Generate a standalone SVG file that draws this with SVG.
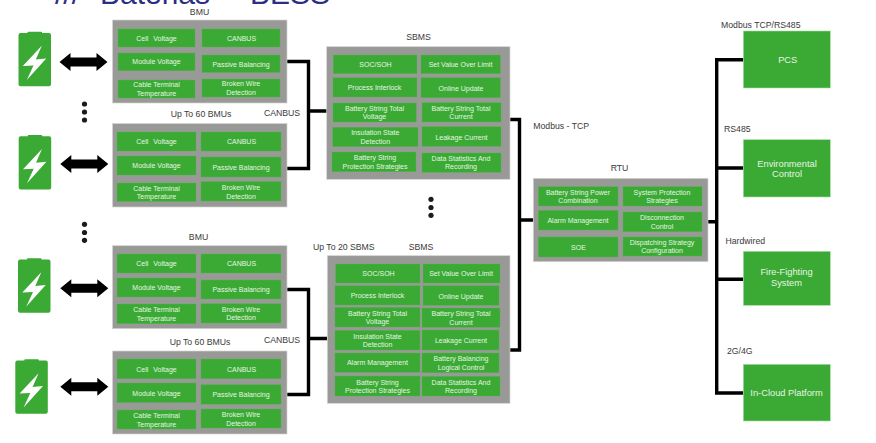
<svg xmlns="http://www.w3.org/2000/svg" width="876" height="443" viewBox="0 0 876 443">
<style>
text{font-family:"Liberation Sans",Arial,sans-serif;text-anchor:middle}
.panel{fill:#999997;stroke:#d4d4d2;stroke-width:.7}
.cell{fill:#3aaa35;stroke:#57b552;stroke-width:.4}
.big{fill:#3aaa35;stroke:#a9dca6;stroke-width:.6}
.c{font-size:7px;fill:#e6f4e2}
.ws{word-spacing:3px}
.b{font-size:9.3px;fill:#e6f4e2}
.l{font-size:8.7px;fill:#3a3a3a}
.s{text-anchor:start}
.w{fill:none;stroke:#000;stroke-width:3.4}
.title{font-size:30px;fill:#2b2e83;text-anchor:start}
.dot{fill:#1c1c1c}
.batt{fill:#3aaa35}
.bolt{fill:#fff}
</style>
<defs>
<g id="battery">
<path class="batt" d="M9 0.5Q9 0 10 0H22.5Q23.5 0 23.5 .5V1.3H30.5Q32.5 1.3 32.5 3.5V52.5Q32.5 54.5 30.5 54.5H2Q0 54.5 0 52.5V3.5Q0 1.3 2 1.3H9Z"/>
<path class="bolt" d="M23.3 14L4.3 34.3L15 33.7L8.3 48.3L27.7 26.7L17.3 27.7Z"/>
</g>
<path id="arrow" d="M0 0L11 -9V-4.5H37V-9L48 0L37 9V4.5H11V9Z" fill="#000"/>
</defs>

<text class="title" y="3.5"><tspan x="55">///</tspan><tspan x="100">Baterias</tspan><tspan x="222">–</tspan><tspan x="250">BESS</tspan></text>

<g id="connectors">
<path class="w" d="M287 61.5H308.5V168.5H287M308.5 111H327"/>
<path class="w" d="M287 289.5H308.5V394.5H287M308.5 338.5H327"/>
<path class="w" d="M510 119.5H519.5V350H510M519.5 220H533.3"/>
<path class="w" d="M708 221.7H716.7M743.3 59.7H716.7V393H743.3M716.7 168H743.3M716.7 279.3H743.3"/>
</g>

<g id="battery-1"><use href="#battery" x="18.5" y="31.8"/></g>
<g id="battery-2"><use href="#battery" x="18.7" y="135"/></g>
<g id="battery-3"><use href="#battery" x="18" y="258.3"/></g>
<g id="battery-4"><use href="#battery" x="15.3" y="359.2"/></g>
<g id="link-1"><use href="#arrow" x="59.5" y="62"/></g>
<g id="link-2"><use href="#arrow" x="60.3" y="164"/></g>
<g id="link-3"><use href="#arrow" x="60.3" y="288.3"/></g>
<g id="link-4"><use href="#arrow" x="60.3" y="386.7"/></g>

<g id="dots-1"><circle class="dot" cx="84.5" cy="104" r="2.6"/><circle class="dot" cx="84.5" cy="112" r="2.6"/><circle class="dot" cx="84.5" cy="120" r="2.6"/></g>
<g id="dots-2"><circle class="dot" cx="84.5" cy="224.3" r="2.6"/><circle class="dot" cx="84.5" cy="232.5" r="2.6"/><circle class="dot" cx="84.5" cy="240.3" r="2.6"/></g>
<g id="dots-3"><circle class="dot" cx="431" cy="199.3" r="2.6"/><circle class="dot" cx="431" cy="207.5" r="2.6"/><circle class="dot" cx="431" cy="215.3" r="2.6"/></g>

<g id="bmu-1">
<text class="l" x="199.5" y="15">BMU</text>
<rect class="panel" x="112.5" y="20" width="174.5" height="83"/>
<rect class="cell" x="118" y="29" width="77" height="18"/><text class="c ws" x="156.5" y="40.5">Cell Voltage</text>
<rect class="cell" x="118" y="53" width="77" height="17.7"/><text class="c" x="156.5" y="64">Module Voltage</text>
<rect class="cell" x="118" y="80" width="77" height="18"/><text class="c" x="156.5" y="87">Cable Terminal</text><text class="c" x="156.5" y="95.5">Temperature</text>
<rect class="cell" x="202" y="29" width="78" height="18"/><text class="c" x="241.5" y="40.5">CANBUS</text>
<rect class="cell" x="202" y="55" width="78" height="17.5"/><text class="c" x="241" y="66.5">Passive Balancing</text>
<rect class="cell" x="202" y="79" width="78" height="18"/><text class="c" x="241" y="86">Broken Wire</text><text class="c" x="241" y="94.5">Detection</text>
</g>

<g id="bmu-2">
<text class="l" x="201" y="117">Up To 60 BMUs</text>
<rect class="panel" x="112.5" y="123.5" width="174.5" height="83.5"/>
<rect class="cell" x="117" y="132" width="79" height="19"/><text class="c ws" x="156.5" y="144">Cell Voltage</text>
<rect class="cell" x="117" y="156" width="79" height="19"/><text class="c" x="156.5" y="168">Module Voltage</text>
<rect class="cell" x="117" y="183" width="79" height="18.5"/><text class="c" x="156.5" y="190.5">Cable Terminal</text><text class="c" x="156.5" y="199">Temperature</text>
<rect class="cell" x="201" y="132" width="80" height="19"/><text class="c" x="241.5" y="144">CANBUS</text>
<rect class="cell" x="201" y="157" width="80" height="20"/><text class="c" x="241" y="170">Passive Balancing</text>
<rect class="cell" x="201" y="181.5" width="80" height="19.5"/><text class="c" x="241" y="190">Broken Wire</text><text class="c" x="241" y="198.5">Detection</text>
</g>
<text id="canbus-1" class="l" x="282" y="116">CANBUS</text>

<g id="bmu-3">
<text class="l" x="198.5" y="240">BMU</text>
<rect class="panel" x="112.5" y="245.7" width="174.5" height="83"/>
<rect class="cell" x="117" y="254" width="79" height="19"/><text class="c ws" x="156.5" y="266">Cell Voltage</text>
<rect class="cell" x="117" y="278" width="79" height="19"/><text class="c" x="156.5" y="290">Module Voltage</text>
<rect class="cell" x="117" y="304" width="79" height="19.7"/><text class="c" x="156.5" y="312">Cable Terminal</text><text class="c" x="156.5" y="320.5">Temperature</text>
<rect class="cell" x="201" y="254" width="80" height="19"/><text class="c" x="241.5" y="266">CANBUS</text>
<rect class="cell" x="201" y="280" width="80" height="19"/><text class="c" x="241" y="291.7">Passive Balancing</text>
<rect class="cell" x="201" y="303.7" width="80" height="19.3"/><text class="c" x="241" y="311.7">Broken Wire</text><text class="c" x="241" y="320">Detection</text>
</g>

<g id="bmu-4">
<text class="l" x="200" y="345">Up To 60 BMUs</text>
<rect class="panel" x="112.5" y="351" width="174.5" height="83"/>
<rect class="cell" x="117" y="359" width="79" height="19.7"/><text class="c ws" x="156.5" y="371.5">Cell Voltage</text>
<rect class="cell" x="117" y="383" width="79" height="19.5"/><text class="c" x="156.5" y="395.5">Module Voltage</text>
<rect class="cell" x="117" y="410" width="79" height="19"/><text class="c" x="156.5" y="418">Cable Terminal</text><text class="c" x="156.5" y="426.5">Temperature</text>
<rect class="cell" x="201" y="359" width="80" height="19.7"/><text class="c" x="241.5" y="371.5">CANBUS</text>
<rect class="cell" x="201" y="384.7" width="80" height="19.5"/><text class="c" x="241" y="397">Passive Balancing</text>
<rect class="cell" x="201" y="409" width="80" height="19"/><text class="c" x="241" y="417.3">Broken Wire</text><text class="c" x="241" y="425.7">Detection</text>
</g>
<text id="canbus-2" class="l" x="282" y="342.5">CANBUS</text>

<g id="sbms-1">
<text class="l" x="418.5" y="40">SBMS</text>
<rect class="panel" x="326.7" y="46.7" width="183.3" height="132.6"/>
<rect class="cell" x="333.3" y="55" width="83.7" height="18.7"/><text class="c" x="375.5" y="67">SOC/SOH</text>
<rect class="cell" x="333" y="77.7" width="84" height="19.3"/><text class="c" x="374.5" y="90">Process Interlock</text>
<rect class="cell" x="333" y="103" width="83.3" height="19"/><text class="c" x="374.5" y="110.7">Battery String Total</text><text class="c" x="374.5" y="119.2">Voltage</text>
<rect class="cell" x="332.7" y="127.3" width="85.3" height="19.4"/><text class="c" x="375.3" y="135.3">Insulation State</text><text class="c" x="375.3" y="143.8">Detection</text>
<rect class="cell" x="332" y="152" width="84" height="19.7"/><text class="c" x="375" y="160.3">Battery String</text><text class="c" x="375" y="168.8">Protection Strategies</text>
<rect class="cell" x="421" y="55" width="79.3" height="18.7"/><text class="c" x="460.5" y="67">Set Value Over Limit</text>
<rect class="cell" x="421" y="77.7" width="79.3" height="20"/><text class="c" x="461" y="90.5">Online Update</text>
<rect class="cell" x="422" y="102.7" width="79" height="19.3"/><text class="c" x="461" y="110.7">Battery String Total</text><text class="c" x="461" y="119.2">Current</text>
<rect class="cell" x="422" y="126.7" width="79" height="19.6"/><text class="c" x="461.5" y="139.5">Leakage Current</text>
<rect class="cell" x="422" y="153" width="79" height="19.3"/><text class="c" x="461" y="160.8">Data Statistics And</text><text class="c" x="461" y="169.3">Recording</text>
</g>

<g id="sbms-2">
<text class="l s" x="313" y="250">Up To 20 SBMS</text>
<text class="l" x="421" y="250">SBMS</text>
<rect class="panel" x="327.3" y="255.7" width="182.7" height="147.6"/>
<rect class="cell" x="335.7" y="264" width="84.3" height="19"/><text class="c" x="378.5" y="276">SOC/SOH</text>
<rect class="cell" x="335" y="285.7" width="85" height="19.3"/><text class="c" x="377.5" y="298">Process Interlock</text>
<rect class="cell" x="335" y="307.3" width="85" height="19.7"/><text class="c" x="377.5" y="315.5">Battery String Total</text><text class="c" x="377.5" y="324">Voltage</text>
<rect class="cell" x="335" y="330.3" width="85" height="19.7"/><text class="c" x="377.5" y="338.5">Insulation State</text><text class="c" x="377.5" y="347">Detection</text>
<rect class="cell" x="335" y="353" width="85" height="19.3"/><text class="c" x="377.5" y="365">Alarm Management</text>
<rect class="cell" x="335" y="376" width="85" height="20"/><text class="c" x="377.5" y="384.5">Battery String</text><text class="c" x="377.5" y="393">Protection Strategies</text>
<rect class="cell" x="423" y="264" width="77" height="19"/><text class="c" x="461" y="276">Set Value Over Limit</text>
<rect class="cell" x="423" y="285.7" width="76" height="19.6"/><text class="c" x="461" y="298.5">Online Update</text>
<rect class="cell" x="422" y="308" width="78" height="19.3"/><text class="c" x="461" y="316">Battery String Total</text><text class="c" x="461" y="324.5">Current</text>
<rect class="cell" x="422" y="330" width="77" height="20"/><text class="c" x="461" y="342.7">Leakage Current</text>
<rect class="cell" x="422" y="353" width="77" height="19.7"/><text class="c" x="461" y="361">Battery Balancing</text><text class="c" x="461" y="369.7">Logical Control</text>
<rect class="cell" x="422" y="376.3" width="78" height="19.7"/><text class="c" x="461" y="384.7">Data Statistics And</text><text class="c" x="461" y="393.2">Recording</text>
</g>

<text id="modbus-tcp" class="l s" x="533.3" y="129">Modbus - TCP</text>

<g id="rtu">
<text class="l" x="619.5" y="171">RTU</text>
<rect class="panel" x="533.3" y="178.3" width="174.7" height="83.4"/>
<rect class="cell" x="538.3" y="186.7" width="79.7" height="19.3"/><text class="c" x="578" y="194.5">Battery String Power</text><text class="c" x="578" y="203">Combination</text>
<rect class="cell" x="538.3" y="210.3" width="79.7" height="19.7"/><text class="c" x="578" y="222.8">Alarm Management</text>
<rect class="cell" x="538.3" y="237" width="79.7" height="20"/><text class="c" x="578.5" y="249.7">SOE</text>
<rect class="cell" x="623" y="186.7" width="79" height="19.3"/><text class="c" x="662" y="194.5">System Protection</text><text class="c" x="662" y="203">Strategies</text>
<rect class="cell" x="623" y="212" width="79" height="19.7"/><text class="c" x="662" y="220">Disconnection</text><text class="c" x="662" y="228.5">Control</text>
<rect class="cell" x="623" y="237" width="79" height="19"/><text class="c" x="662" y="244.7">Dispatching Strategy</text><text class="c" x="662" y="253.2">Configuration</text>
</g>

<g id="pcs">
<text class="l s" x="721" y="28">Modbus TCP/RS485</text>
<rect class="big" x="743.3" y="31" width="87" height="57"/>
<text class="b" x="787.7" y="62.7">PCS</text>
</g>
<g id="environmental-control">
<text class="l s" x="724" y="131.5">RS485</text>
<rect class="big" x="743.3" y="139.7" width="87" height="57.3"/>
<text class="b" x="787" y="166.5">Environmental</text><text class="b" x="787" y="176.7">Control</text>
</g>
<g id="fire-fighting">
<text class="l s" x="725.5" y="244">Hardwired</text>
<rect class="big" x="743.3" y="251.3" width="87" height="54"/>
<text class="b" x="786.5" y="275">Fire-Fighting</text><text class="b" x="786.5" y="285.5">System</text>
</g>
<g id="in-cloud-platform">
<text class="l s" x="727" y="354">2G/4G</text>
<rect class="big" x="743.3" y="364.3" width="87" height="56.7"/>
<text class="b" x="786.5" y="396">In-Cloud Platform</text>
</g>
</svg>
